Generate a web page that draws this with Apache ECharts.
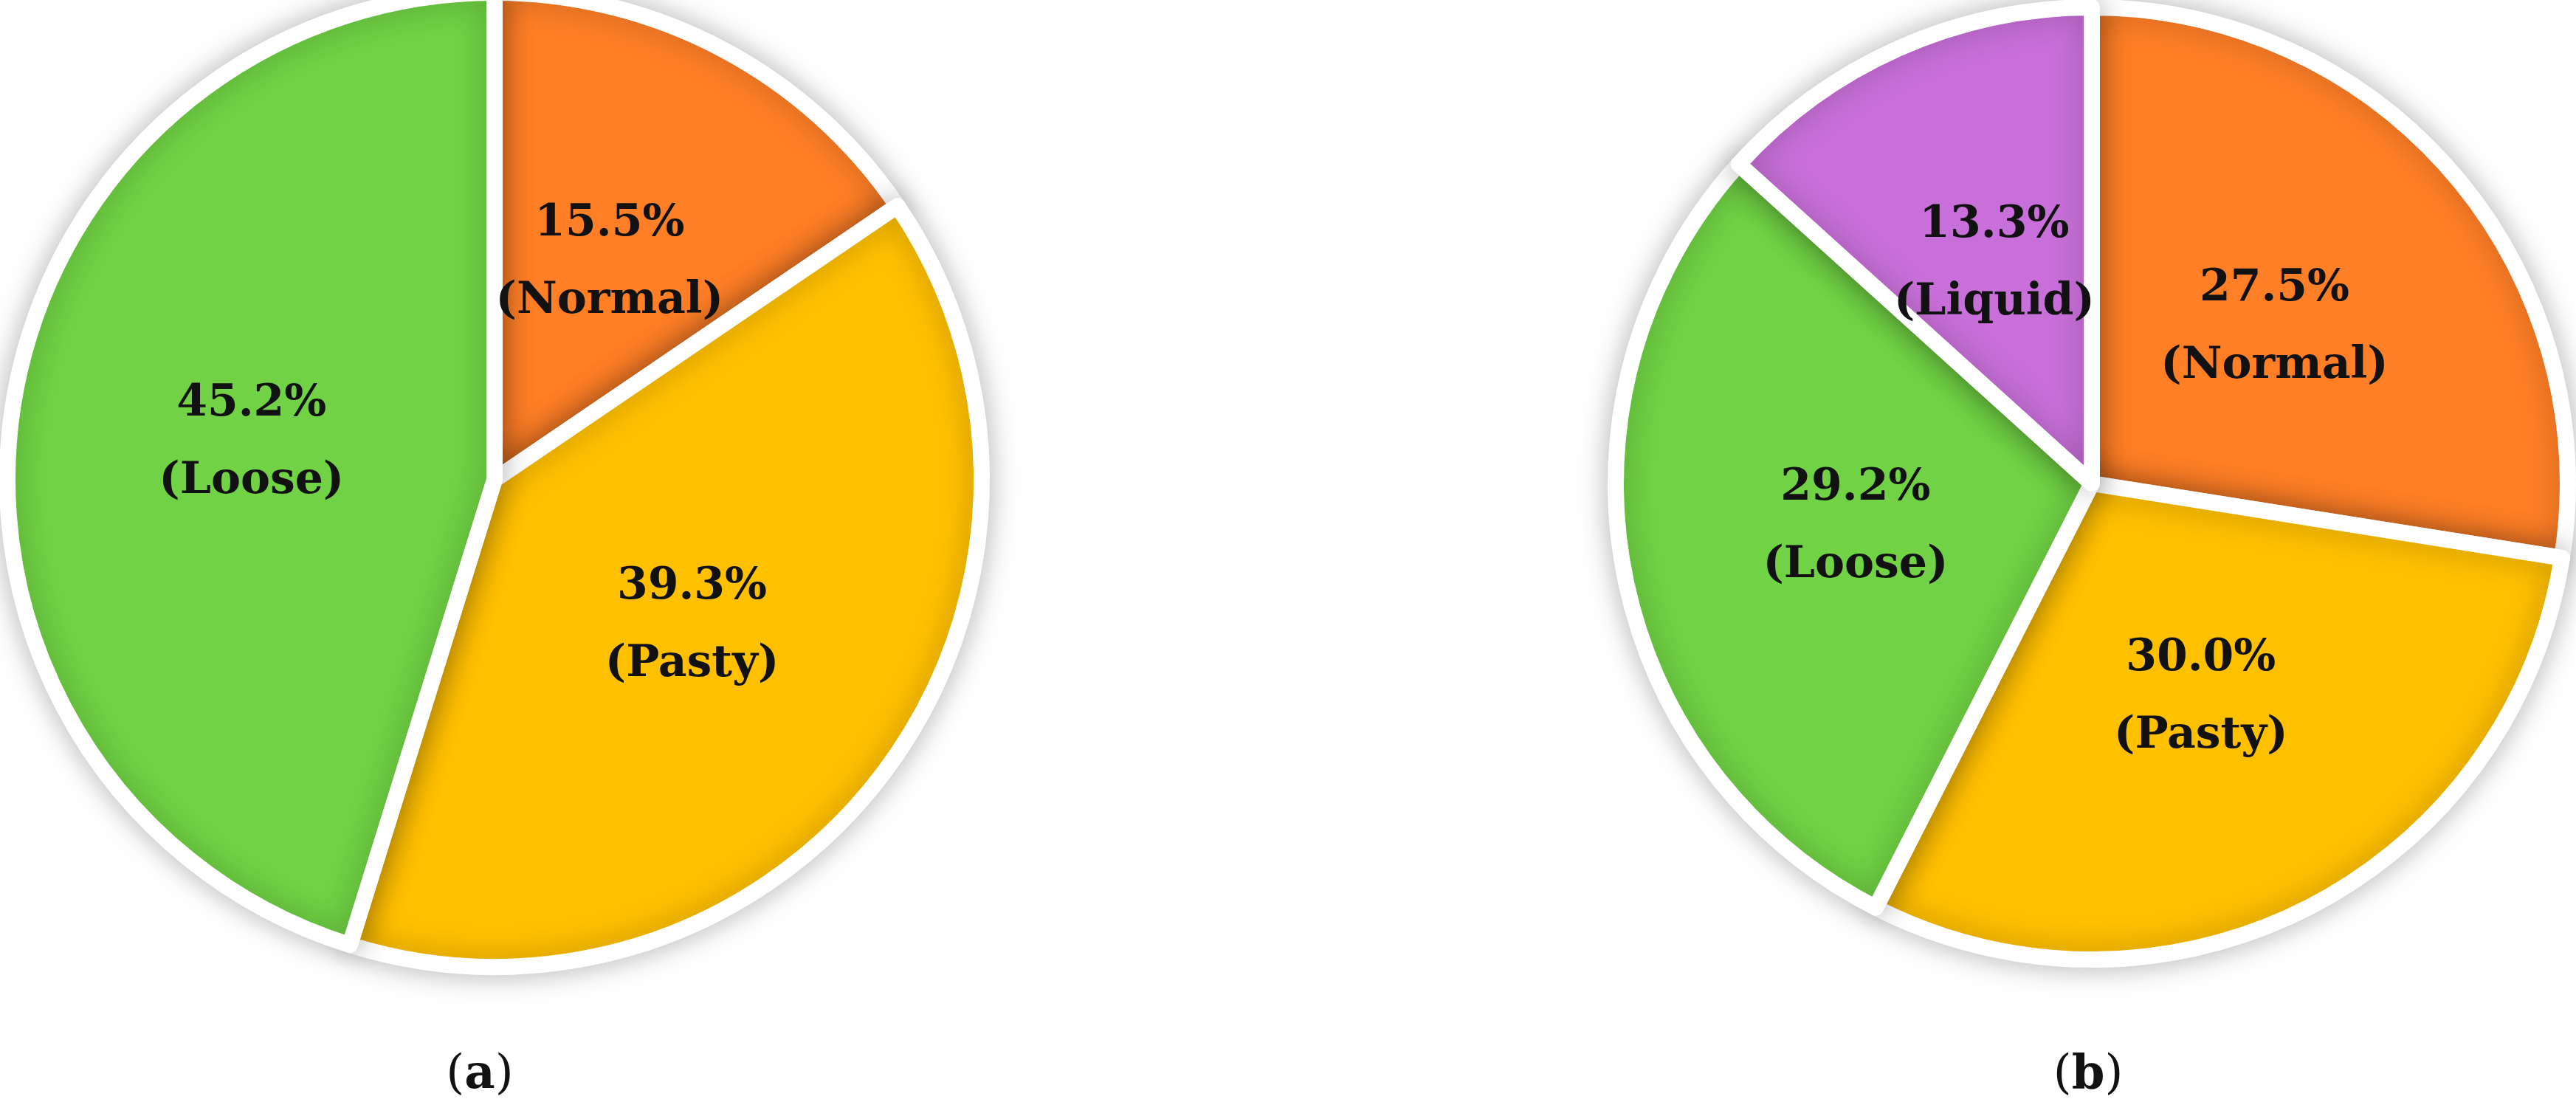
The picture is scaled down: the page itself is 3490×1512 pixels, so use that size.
<!DOCTYPE html>
<html>
<head>
    <meta charset="UTF-8">
    <title>Stool consistency pies</title>
    <script src="https://cdn.jsdelivr.net/npm/echarts@6/dist/echarts.min.js"></script>
    <style>
        html, body { margin: 0; padding: 0; background: #fff; }
        #main { width: 3490px; height: 1512px; }
    </style>
</head>
<body>
    <div id="main"></div>
    <script>
        var namesA = ['Normal', 'Pasty', 'Loose'];
        var valuesA = [15.5, 39.3, 45.2];
        var colorsA = ['#FF7F27', '#FFC000', '#70D244'];

        var namesB = ['Normal', 'Pasty', 'Loose', 'Liquid'];
        var valuesB = [27.5, 30.0, 29.2, 13.3];
        var colorsB = ['#FF7F27', '#FFC000', '#70D244', '#C86FD9'];

        function build(names, values, colors) {
            var out = [];
            for (var i = 0; i < names.length; i++) {
                out.push({ name: names[i], value: values[i], itemStyle: { color: colors[i] } });
            }
            return out;
        }

        function pie(center, radius, data) {
            return {
                type: 'pie',
                center: center,
                radius: radius,
                startAngle: 90,
                clockwise: true,
                silent: true,
                itemStyle: {
                    borderColor: '#fff',
                    borderWidth: 22,
                    shadowBlur: 40,
                    shadowColor: 'rgba(0,0,0,0.25)'
                },
                label: {
                    position: 'inside',
                    formatter: function (p) { return p.value.toFixed(1) + '%\n(' + p.name + ')'; },
                    fontFamily: 'DejaVu Serif',
                    fontWeight: 'bold',
                    fontSize: 60,
                    lineHeight: 105,
                    color: '#111'
                },
                labelLine: { show: false },
                data: data
            };
        }

        var myChart = echarts.init(document.getElementById('main'));
        myChart.setOption({
            animation: false,
            title: [{
                text: '({b|a})', left: 645, top: 1420, textAlign: 'center',
                textStyle: { fontFamily: 'DejaVu Serif', fontSize: 64, fontWeight: 'normal', color: '#111',
                    rich: { b: { fontFamily: 'DejaVu Serif', fontSize: 64, fontWeight: 'bold', color: '#111' } } }
            }, {
                text: '({b|b})', left: 2824, top: 1420, textAlign: 'center',
                textStyle: { fontFamily: 'DejaVu Serif', fontSize: 64, fontWeight: 'normal', color: '#111',
                    rich: { b: { fontFamily: 'DejaVu Serif', fontSize: 64, fontWeight: 'bold', color: '#111' } } }
            }],
            series: [
                pie([670, 650], 660, build(namesA, valuesA, colorsA)),
                pie([2834, 655], 645, build(namesB, valuesB, colorsB))
            ]
        });
    </script>
</body>
</html>
